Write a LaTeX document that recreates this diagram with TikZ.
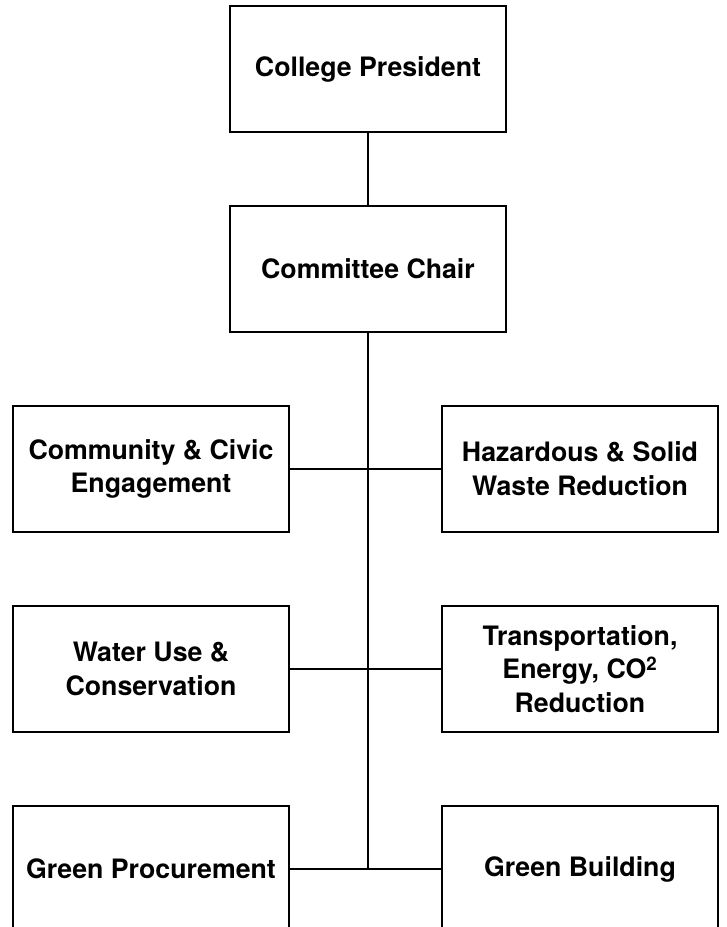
\documentclass[tikz,border=0pt]{standalone}
\usepackage{fontspec}
\setmainfont{TeX Gyre Heros}
\usepackage{tikz}

\begin{document}
\begin{tikzpicture}[x=0.025cm,y=-0.025cm,
    unit/.style={draw,line width=1.5pt,minimum width=6.9cm,minimum height=3.15cm,align=center,
        font=\bfseries\fontsize{19}{24}\selectfont}]
        \useasboundingbox (0,0) rectangle (727,927);
        \node[unit] (pres) at (368,69) {College President};
        \node[unit] (chair) at (368,269) {Committee Chair};
        \node[unit] (civic) at (151,469) {Community \& Civic\\Engagement};
        \node[unit] (waste) at (580,469) {Hazardous \& Solid\\Waste Reduction};
        \node[unit] (water) at (151,669) {Water Use \&\\Conservation};
        \node[unit] (energy) at (580,669) {Transportation,\\Energy, CO\textsuperscript{2}\\Reduction};
        \node[unit] (proc) at (151,869) {Green Procurement};
        \node[unit] (build) at (580,869) {Green Building};
        \coordinate (spine) at (chair.south |- proc.east);
        \draw[line width=1.5pt] (pres) -- (chair);
        \draw[line width=1.5pt] (chair) -- (spine);
        \foreach \a/\b in {civic/waste,water/energy,proc/build}
            \draw[line width=1.5pt] (\a) -- (\b);
    \end{tikzpicture}
\end{document}
